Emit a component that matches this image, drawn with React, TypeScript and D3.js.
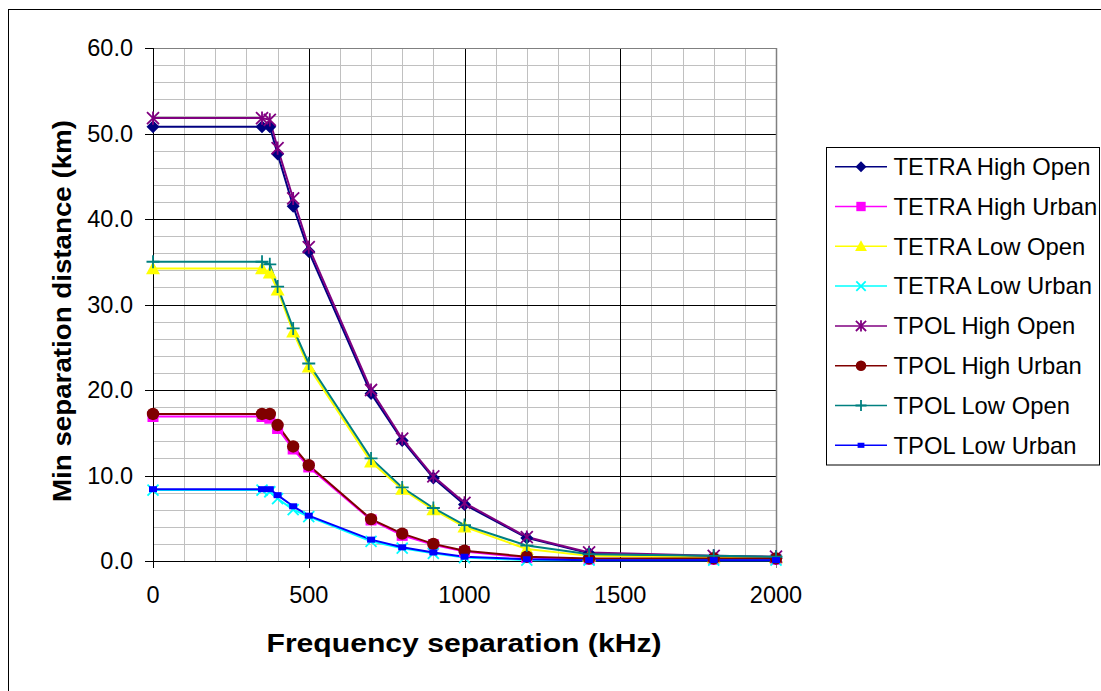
import React from "react";
import * as d3 from "d3";

const freqs = [0, 350, 375, 400, 450, 500, 700, 800, 900, 1000, 1200, 1400, 1800, 2000];

const tetraHighOpen = [50.8, 50.8, 50.8, 47.6, 41.5, 36.2, 19.6, 14.1, 9.7, 6.6, 2.7, 0.9, 0.4, 0.3];
const tetraHighUrban = [16.9, 16.9, 16.7, 15.5, 13.1, 11.0, 4.8, 3.0, 1.9, 1.1, 0.4, 0.2, 0.2, 0.2];
const tetraLowOpen = [34.2, 34.2, 33.7, 31.7, 26.8, 22.7, 11.6, 8.4, 6.0, 4.0, 1.4, 0.6, 0.4, 0.4];
const tetraLowUrban = [8.3, 8.3, 8.1, 7.3, 6.0, 5.2, 2.3, 1.5, 0.9, 0.4, 0.1, 0.1, 0.1, 0.1];
const tpolHighOpen = [51.8, 51.8, 51.6, 48.3, 42.4, 36.7, 20.0, 14.3, 9.9, 6.8, 2.8, 1.0, 0.6, 0.5];
const tpolHighUrban = [17.2, 17.2, 17.2, 15.9, 13.4, 11.2, 4.9, 3.2, 2.0, 1.2, 0.5, 0.3, 0.3, 0.3];
const tpolLowOpen = [35.0, 35.0, 34.7, 32.1, 27.2, 23.1, 12.0, 8.6, 6.2, 4.2, 1.8, 0.8, 0.6, 0.5];
const tpolLowUrban = [8.4, 8.4, 8.4, 7.7, 6.4, 5.3, 2.5, 1.6, 1.0, 0.5, 0.2, 0.1, 0.1, 0.1];

const seriesNames = [
  "TETRA High Open",
  "TETRA High Urban",
  "TETRA Low Open",
  "TETRA Low Urban",
  "TPOL High Open",
  "TPOL High Urban",
  "TPOL Low Open",
  "TPOL Low Urban",
];
const seriesValues = [
  tetraHighOpen,
  tetraHighUrban,
  tetraLowOpen,
  tetraLowUrban,
  tpolHighOpen,
  tpolHighUrban,
  tpolLowOpen,
  tpolLowUrban,
];
const seriesColors = ["#000080", "#FF00FF", "#FFFF00", "#00FFFF", "#800080", "#800000", "#008080", "#0000FF"];
const seriesMarkers = ["diamond", "square", "triangle", "x", "star", "circle", "plus", "smallsquare"];

const yTicks = [0, 10, 20, 30, 40, 50, 60];
const xTicks = [0, 500, 1000, 1500, 2000];

const FONT = "'Liberation Sans', Arial, sans-serif";

function Marker({ type, x, y, color, s = 1 }: { type: string; x: number; y: number; color: string; s?: number }) {
  switch (type) {
    case "diamond": {
      const r = 6.5 * s;
      return <path d={`M${x},${y - r}L${x + r},${y}L${x},${y + r}L${x - r},${y}Z`} fill={color} />;
    }
    case "square": {
      const r = 5.5 * s;
      return <rect x={x - r} y={y - r} width={2 * r} height={2 * r} fill={color} />;
    }
    case "triangle": {
      const r = 7 * s;
      return <path d={`M${x},${y - r}L${x + r},${y + r * 0.8}L${x - r},${y + r * 0.8}Z`} fill={color} />;
    }
    case "x": {
      const r = 5.5 * s;
      return (
        <path d={`M${x - r},${y - r}L${x + r},${y + r}M${x - r},${y + r}L${x + r},${y - r}`} stroke={color} strokeWidth={1.8} fill="none" />
      );
    }
    case "star": {
      const r = 6 * s;
      return (
        <path
          d={`M${x - r},${y - r}L${x + r},${y + r}M${x - r},${y + r}L${x + r},${y - r}M${x},${y - r * 1.1}L${x},${y + r * 1.1}`}
          stroke={color}
          strokeWidth={1.8}
          fill="none"
        />
      );
    }
    case "circle":
      return <circle cx={x} cy={y} r={6.2 * s} fill={color} />;
    case "plus": {
      const r = 6.5 * s;
      return <path d={`M${x - r},${y}L${x + r},${y}M${x},${y - r}L${x},${y + r}`} stroke={color} strokeWidth={1.8} fill="none" />;
    }
    case "smallsquare":
      return <rect x={x - 4 * s} y={y - 3 * s} width={8 * s} height={6 * s} fill={color} />;
    default:
      return null;
  }
}

export default function App() {
  const W = 1101;
  const H = 691;
  const left = 153;
  const right = 776;
  const top = 48;
  const bottom = 561;

  const x = d3.scaleLinear().domain([0, 2000]).range([left, right]);
  const y = d3.scaleLinear().domain([0, 60]).range([bottom, top]);

  const crisp = (v: number) => Math.round(v) + 0.5;

  const minorY = d3.range(0, 61, 2).filter((v) => v % 10 !== 0);
  const minorX = d3.range(0, 2001, 100).filter((v) => v % 500 !== 0);
  const majorY = [10, 20, 30, 40, 50];
  const majorX = [500, 1000, 1500];

  const line = d3
    .line<[number, number]>()
    .x((d) => x(d[0]))
    .y((d) => y(d[1]));

  const legendX = 826.5;
  const legendY = 147.5;
  const legendW = 273;
  const legendH = 317.5;
  const rowY0 = 166.7;
  const rowStep = 39.8;

  return (
    <svg width={W} height={H} style={{ position: "absolute", left: 0, top: 0, background: "#fff" }}>
      <rect x={0} y={0} width={W} height={H} fill="#fff" />
      <rect x={8.5} y={9.5} width={W + 20} height={H + 20} fill="none" stroke="#000" strokeWidth={1} />

      {/* minor grid */}
      {minorY.map((v) => (
        <line key={"my" + v} x1={left} x2={right} y1={crisp(y(v))} y2={crisp(y(v))} stroke="#c0c0c0" strokeWidth={1} />
      ))}
      {minorX.map((v) => (
        <line key={"mx" + v} y1={top} y2={bottom} x1={crisp(x(v))} x2={crisp(x(v))} stroke="#c0c0c0" strokeWidth={1} />
      ))}
      {/* major grid */}
      {majorY.map((v) => (
        <line key={"My" + v} x1={left} x2={right} y1={crisp(y(v))} y2={crisp(y(v))} stroke="#000" strokeWidth={1} />
      ))}
      {majorX.map((v) => (
        <line key={"Mx" + v} y1={top} y2={bottom} x1={crisp(x(v))} x2={crisp(x(v))} stroke="#000" strokeWidth={1} />
      ))}
      {/* plot border top/right */}
      <line x1={left} x2={right} y1={crisp(y(60))} y2={crisp(y(60))} stroke="#808080" strokeWidth={1} />
      <line x1={crisp(x(2000))} x2={crisp(x(2000))} y1={top} y2={bottom} stroke="#808080" strokeWidth={1.5} />

      {/* axes */}
      <line x1={crisp(x(0))} x2={crisp(x(0))} y1={top} y2={bottom} stroke="#000" strokeWidth={1} />
      <line x1={left - 8} x2={right} y1={crisp(y(0))} y2={crisp(y(0))} stroke="#000" strokeWidth={1} />
      {yTicks.map((v) => (
        <g key={"yt" + v}>
          <line x1={left - 8} x2={left} y1={crisp(y(v))} y2={crisp(y(v))} stroke="#000" strokeWidth={1} />
          <text x={133} y={y(v) + 8.2} textAnchor="end" fontFamily={FONT} fontSize={23.5} fill="#000">
            {v.toFixed(1)}
          </text>
        </g>
      ))}
      {xTicks.map((v) => (
        <g key={"xt" + v}>
          <line x1={crisp(x(v))} x2={crisp(x(v))} y1={bottom} y2={bottom + 7} stroke={v === 2000 ? "#808080" : "#000"} strokeWidth={1} />
          <text x={x(v)} y={603} textAnchor="middle" fontFamily={FONT} fontSize={23.5} fill="#000">
            {v}
          </text>
        </g>
      ))}

      {/* series lines */}
      {seriesValues.map((vals, i) => (
        <path
          key={"l" + i}
          d={line(freqs.map((f, j) => [f, vals[j]] as [number, number])) || ""}
          fill="none"
          stroke={seriesColors[i]}
          strokeWidth={2}
        />
      ))}
      {/* markers */}
      {seriesValues.map((vals, i) => (
        <g key={"m" + i}>
          {freqs.map((f, j) => (
            <Marker key={j} type={seriesMarkers[i]} x={x(f)} y={y(vals[j])} color={seriesColors[i]} />
          ))}
        </g>
      ))}

      {/* axis titles */}
      <text
        x={464}
        y={652}
        textAnchor="middle"
        fontFamily={FONT}
        fontWeight="bold"
        fontSize={25}
        textLength={395}
        lengthAdjust="spacingAndGlyphs"
        fill="#000"
      >
        Frequency separation (kHz)
      </text>
      <text
        transform={`translate(71,311) rotate(-90)`}
        textAnchor="middle"
        fontFamily={FONT}
        fontWeight="bold"
        fontSize={25}
        textLength={382}
        lengthAdjust="spacingAndGlyphs"
        fill="#000"
      >
        Min separation distance (km)
      </text>

      {/* legend */}
      <rect x={legendX} y={legendY} width={legendW} height={legendH} fill="#fff" stroke="#000" strokeWidth={1} />
      {seriesNames.map((name, i) => {
        const cy = rowY0 + i * rowStep;
        return (
          <g key={"lg" + i}>
            <line x1={835} x2={887} y1={cy} y2={cy} stroke={seriesColors[i]} strokeWidth={1.5} />
            <Marker type={seriesMarkers[i]} x={861} y={cy} color={seriesColors[i]} s={0.85} />
            <text x={893.5} y={cy + 8.3} fontFamily={FONT} fontSize={23.8} fill="#000">
              {name}
            </text>
          </g>
        );
      })}
    </svg>
  );
}
